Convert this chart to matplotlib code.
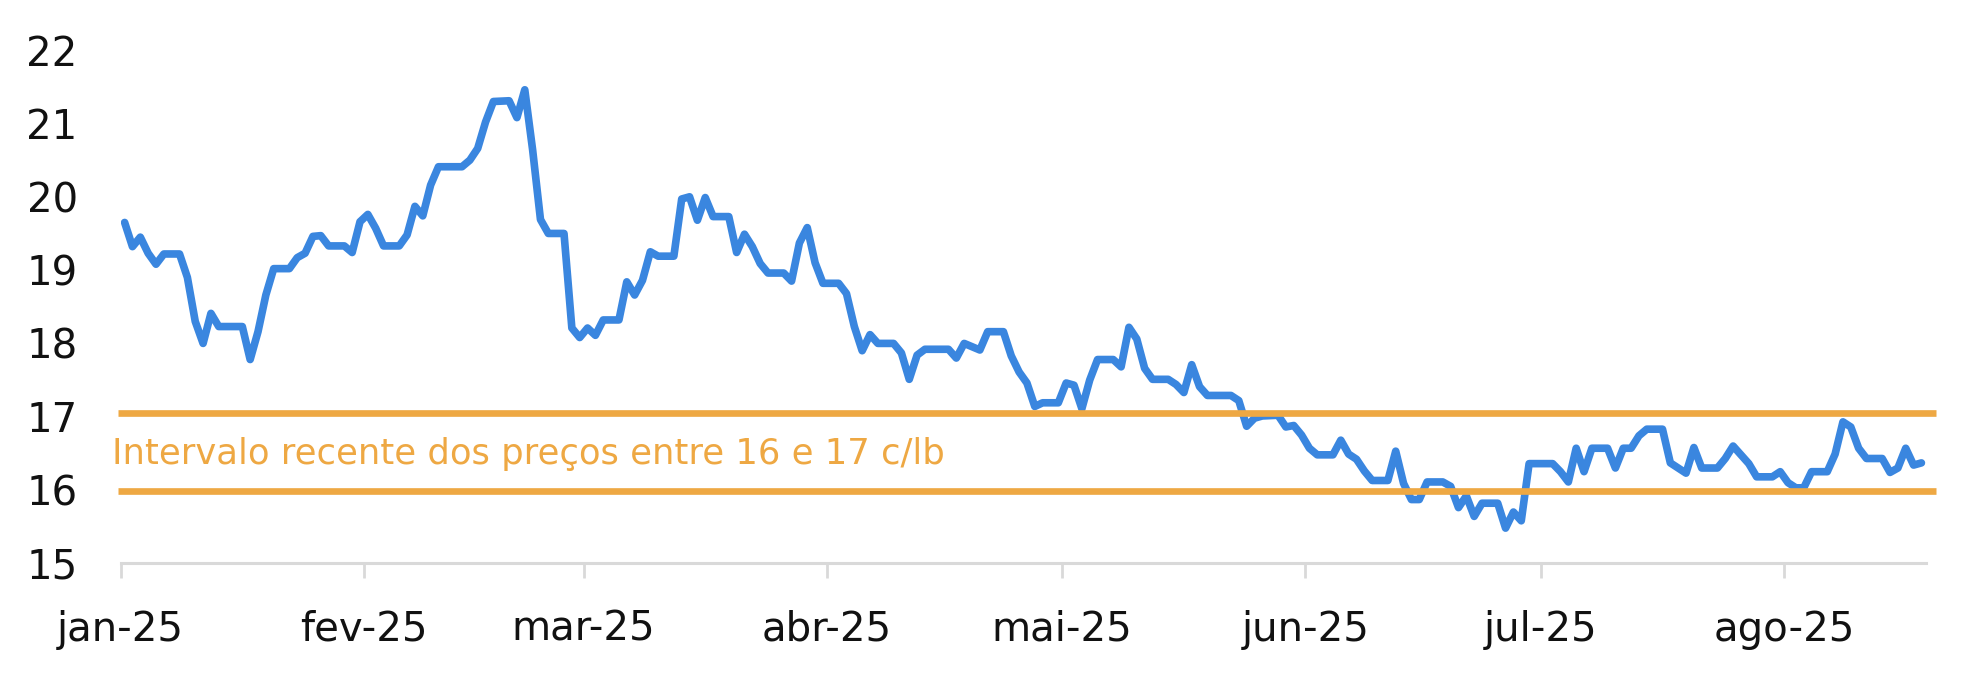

# Preço do açúcar (c/lb) em 2025 com a faixa recente entre 16 e 17 c/lb

# Importing libraries
import numpy as np
import pandas as pd
import matplotlib
matplotlib.use("Agg")
import matplotlib.pyplot as plt
import matplotlib.dates as mdates

# Data__________________________________________________________________________________________________________________
dates = ["01-01", "01-02", "01-03", "01-04", "01-05", "01-06", "01-08", "01-09", "01-10", "01-11",
         "01-12", "01-13", "01-16", "01-17", "01-18", "01-19", "01-20", "01-22", "01-23", "01-24",
         "01-25", "01-26", "01-27", "01-29", "01-30", "01-31", "02-01", "02-02", "02-03", "02-05",
         "02-06", "02-07", "02-08", "02-09", "02-10", "02-13", "02-14", "02-15", "02-16", "02-17",
         "02-19", "02-20", "02-21", "02-22", "02-23", "02-24", "02-26", "02-27", "02-28", "03-01",
         "03-02", "03-03", "03-05", "03-06", "03-07", "03-08", "03-09", "03-10", "03-12", "03-13",
         "03-14", "03-15", "03-16", "03-17", "03-19", "03-20", "03-21", "03-22", "03-23", "03-24",
         "03-26", "03-27", "03-28", "03-29", "03-30", "03-31", "04-02", "04-03", "04-04", "04-05",
         "04-06", "04-07", "04-09", "04-10", "04-11", "04-12", "04-13", "04-16", "04-17", "04-18",
         "04-20", "04-21", "04-23", "04-24", "04-25", "04-26", "04-27", "04-28", "04-30", "05-01",
         "05-02", "05-03", "05-04", "05-05", "05-07", "05-08", "05-09", "05-10", "05-11", "05-12",
         "05-14", "05-15", "05-16", "05-17", "05-18", "05-19", "05-22", "05-23", "05-24", "05-25",
         "05-26", "05-28", "05-29", "05-30", "05-31", "06-01", "06-02", "06-04", "06-05", "06-06",
         "06-07", "06-08", "06-09", "06-11", "06-12", "06-13", "06-14", "06-15", "06-16", "06-18",
         "06-19", "06-20", "06-21", "06-22", "06-23", "06-25", "06-26", "06-27", "06-28", "06-29",
         "07-02", "07-03", "07-04", "07-05", "07-06", "07-07", "07-09", "07-10", "07-11", "07-12",
         "07-13", "07-14", "07-16", "07-17", "07-18", "07-19", "07-20", "07-21", "07-23", "07-24",
         "07-25", "07-26", "07-27", "07-28", "07-30", "07-31", "08-01", "08-02", "08-03", "08-04",
         "08-06", "08-07", "08-08", "08-09", "08-10", "08-11", "08-13", "08-14", "08-15", "08-16",
         "08-17", "08-18"]

price = [19.65, 19.32, 19.45, 19.23, 19.08, 19.22, 19.22, 18.90, 18.30, 18.00,
         18.41, 18.23, 18.23, 17.78, 18.16, 18.66, 19.02, 19.02, 19.17, 19.23,
         19.46, 19.47, 19.33, 19.33, 19.24, 19.66, 19.76, 19.57, 19.33, 19.33,
         19.48, 19.87, 19.74, 20.16, 20.41, 20.41, 20.50, 20.66, 21.02, 21.30,
         21.31, 21.08, 21.46, 20.64, 19.69, 19.50, 19.50, 18.21, 18.08, 18.21,
         18.11, 18.32, 18.32, 18.84, 18.66, 18.86, 19.25, 19.19, 19.19, 19.97,
         20.00, 19.68, 19.99, 19.73, 19.73, 19.24, 19.49, 19.32, 19.09, 18.96,
         18.96, 18.85, 19.37, 19.58, 19.10, 18.82, 18.82, 18.68, 18.23, 17.90,
         18.12, 18.00, 18.00, 17.87, 17.51, 17.84, 17.92, 17.92, 17.80, 18.00,
         17.91, 18.16, 18.16, 17.83, 17.61, 17.46, 17.14, 17.19, 17.19, 17.46,
         17.43, 17.11, 17.50, 17.78, 17.78, 17.68, 18.22, 18.06, 17.66, 17.51,
         17.51, 17.44, 17.33, 17.71, 17.41, 17.29, 17.29, 17.22, 16.87, 16.98,
         17.01, 17.02, 16.86, 16.88, 16.75, 16.57, 16.48, 16.48, 16.68, 16.49,
         16.42, 16.26, 16.13, 16.13, 16.53, 16.09, 15.87, 15.87, 16.11, 16.11,
         16.05, 15.76, 15.92, 15.64, 15.82, 15.82, 15.48, 15.70, 15.58, 16.36,
         16.36, 16.25, 16.11, 16.57, 16.25, 16.57, 16.57, 16.30, 16.57, 16.57,
         16.74, 16.83, 16.83, 16.37, 16.30, 16.23, 16.58, 16.30, 16.30, 16.43,
         16.60, 16.48, 16.36, 16.18, 16.18, 16.25, 16.10, 16.03, 16.03, 16.25,
         16.25, 16.49, 16.93, 16.86, 16.57, 16.43, 16.43, 16.24, 16.30, 16.57,
         16.34, 16.37]

band = [17.05, 15.98]
band_label = "Intervalo recente dos preços entre 16 e 17 c/lb"
month_labels = ["jan-25", "fev-25", "mar-25", "abr-25", "mai-25", "jun-25", "jul-25", "ago-25"]
yticks = [15, 16, 17, 18, 19, 20, 21, 22]

# Plot__________________________________________________________________________________________________________________
blue = "#3A86DF"
orange = "#EEA843"
grey = "#D9D9D9"
ink = "#111111"

x = pd.to_datetime(["2025-" + d for d in dates]) + pd.Timedelta(hours=12)
start = pd.Timestamp("2025-01-01")
end = pd.Timestamp("2025-08-19 02:00")

fig = plt.figure(figsize=(19.77, 6.81), dpi=100)
ax = fig.add_axes([0.06105, 0.1728, 0.9742 - 0.06105, 0.9263 - 0.1728])

ax.plot(x, price, color=blue, lw=5.5, solid_joinstyle="round", solid_capstyle="round", zorder=2)

# faixa de 16-17 c/lb
band_x = [start - pd.Timedelta(hours=8), end + pd.Timedelta(days=1.3)]
for b in band:
    ax.plot(band_x, [b, b], color=orange, lw=4.8, solid_capstyle="butt", clip_on=False, zorder=3)
ax.text(start - pd.Timedelta(days=1.15), 16.36, band_label, color=orange, fontsize=25.5,
        ha="left", va="baseline", zorder=4)

ax.set_xlim(start, end)
ax.set_ylim(15, 22)

months = pd.date_range("2025-01-01", "2025-08-01", freq="MS")
ax.set_xticks(months)
ax.set_xticklabels(month_labels)
ax.set_yticks(yticks)
ax.set_yticklabels([str(v) for v in yticks])

for s in ["top", "right", "left"]:
    ax.spines[s].set_visible(False)
ax.spines["bottom"].set_color(grey)
ax.spines["bottom"].set_linewidth(2.2)

ax.tick_params(axis="x", direction="out", length=10.8, width=2.0, color=grey,
               labelsize=29, labelcolor=ink, pad=22.5)
ax.tick_params(axis="y", length=0, labelsize=29, labelcolor=ink, pad=31)

fig.savefig("out.png", dpi=100)
